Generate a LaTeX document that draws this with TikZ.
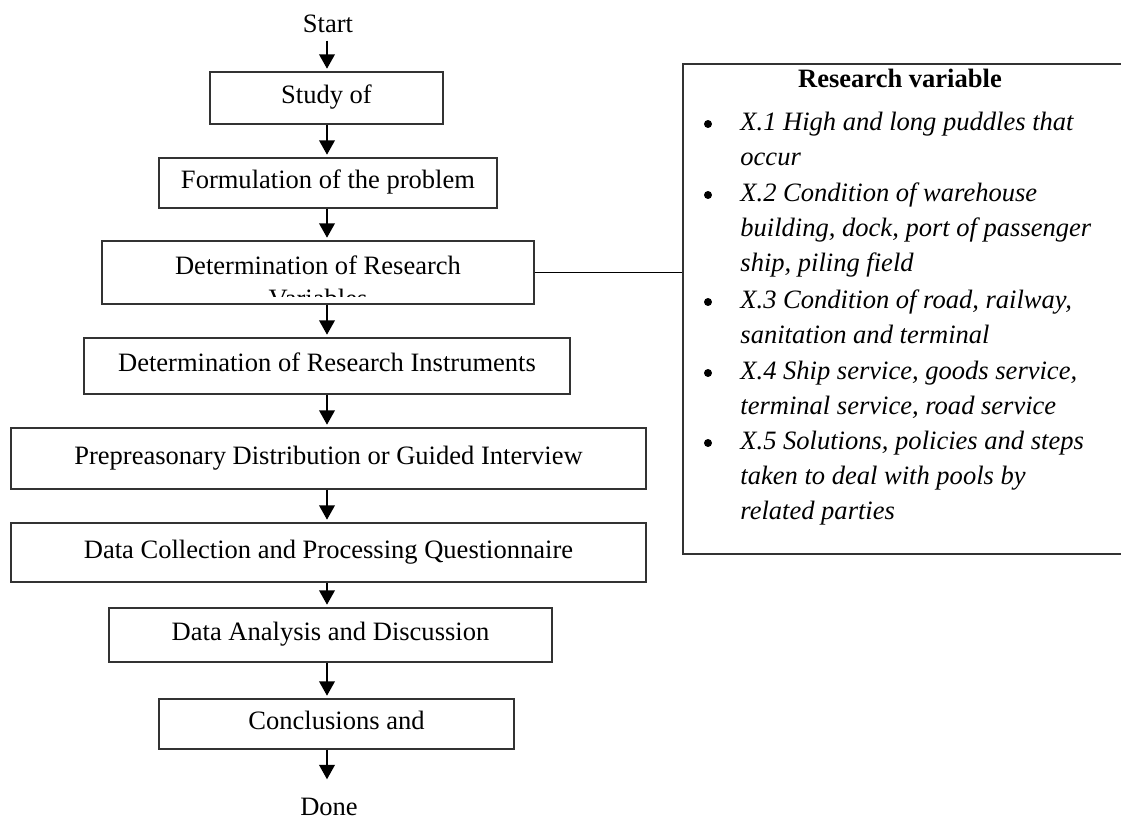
\documentclass[tikz,border=0pt]{standalone}
\usepackage{fontspec}
\setmainfont{Liberation Serif}
\usetikzlibrary{arrows.meta,positioning}
\def\px{*0.4523pt}
\tikzset{
    stepbox/.style={draw=black!80,line width=0.55pt,inner sep=0pt,
      text height=0.75em,text depth=0.22em,align=center},
    flowarrow/.style={-{Triangle[length=6.5pt,width=7pt]},line width=0.9pt,
      shorten >=1.2pt},
    varitem/.style={anchor=base west,align=left,inner sep=0pt,
      font=\fontsize{12}{16}\selectfont\itshape},
    bulletmark/.style={circle,fill=black,inner sep=0pt,minimum size=3.6pt}
}
\begin{document}
\begin{tikzpicture}[x=0.4523pt,y=-0.4523pt,font=\fontsize{12}{14}\selectfont]
  \useasboundingbox (0,0) rectangle (1121,819);
  \coordinate (axis) at (327,0);
  % flow of the research
  \node (start) at (328,24) {Start};
  \node[stepbox,minimum width=233\px,minimum height=52\px] (study) at (326.5,98) {Study of};
  \node[stepbox,minimum width=338\px,minimum height=50\px] (form) at (328,183) {Formulation of the problem};
  \node[stepbox,minimum width=432\px,minimum height=63\px] (detvar) at (318,272.5) {};
  \begin{scope}
    \clip ([yshift=8\px]detvar.south west) rectangle (detvar.north east);
    % base anchor sits on the last line
    \node[anchor=base,align=center,inner sep=0pt,font=\fontsize{12}{14.7}\selectfont]
      (detvartext) at (318,307.5) {Determination of Research\\Variables};
  \end{scope}
  \node[stepbox,minimum width=486\px,minimum height=56\px] (detins) at (327,366) {Determination of Research Instruments};
  \node[stepbox,minimum width=635\px,minimum height=61\px] (prep) at (328.5,458.5) {Prepreasonary Distribution or Guided Interview};
  \node[stepbox,minimum width=635\px,minimum height=59\px] (collect) at (328.5,552.5) {Data Collection and Processing Questionnaire};
  \node[stepbox,minimum width=443\px,minimum height=54\px] (analysis) at (330.5,635) {Data Analysis and Discussion};
  \node[stepbox,minimum width=355\px,minimum height=50\px] (concl) at (336.5,724) {Conclusions and};
  \node (done) at (329,807) {Done};
  \draw[flowarrow] (start.south -| axis) -- (study.north -| axis);
  \draw[flowarrow] (study.south -| axis) -- (form.north -| axis);
  \draw[flowarrow] (form.south -| axis) -- (detvar.north -| axis);
  \draw[flowarrow] (detvar.south -| axis) -- (detins.north -| axis);
  \draw[flowarrow] (detins.south -| axis) -- (prep.north -| axis);
  \draw[flowarrow] (prep.south -| axis) -- (collect.north -| axis);
  \draw[flowarrow] (collect.south -| axis) -- (analysis.north -| axis);
  \draw[flowarrow] (analysis.south -| axis) -- (concl.north -| axis);
  \draw[flowarrow,shorten >=5pt] (concl.south -| axis) -- (done.north -| axis);
  % research variables
  \node[stepbox,minimum width=441\px,minimum height=490\px] (varbox) at (903.5,309) {};
  \draw[line width=0.55pt] (detvar.east) -- (detvar.east -| varbox.west);
  \node[anchor=base,inner sep=0pt,font=\fontsize{12}{14}\selectfont\bfseries] (vartitle) at (900,88) {Research variable};
  \node[bulletmark] (b1) at (708,124) {};
  \node[varitem] (x1) at (740,165.4) {X.1 High and long puddles that\\occur};
  \node[bulletmark] (b2) at (708,195) {};
  \node[varitem] (x2) at (740,271.8) {X.2 Condition of warehouse\\building, dock, port of passenger\\ship, piling field};
  \node[bulletmark] (b3) at (708,302) {};
  \node[varitem] (x3) at (740,343.4) {X.3 Condition of road, railway,\\sanitation and terminal};
  \node[bulletmark] (b4) at (708,373) {};
  \node[varitem] (x4) at (740,414.4) {X.4 Ship service, goods service,\\terminal service, road service};
  \node[bulletmark] (b5) at (708,443) {};
  \node[varitem] (x5) at (740,519.8) {X.5 Solutions, policies and steps\\taken to deal with pools by\\related parties};
\end{tikzpicture}
\end{document}
